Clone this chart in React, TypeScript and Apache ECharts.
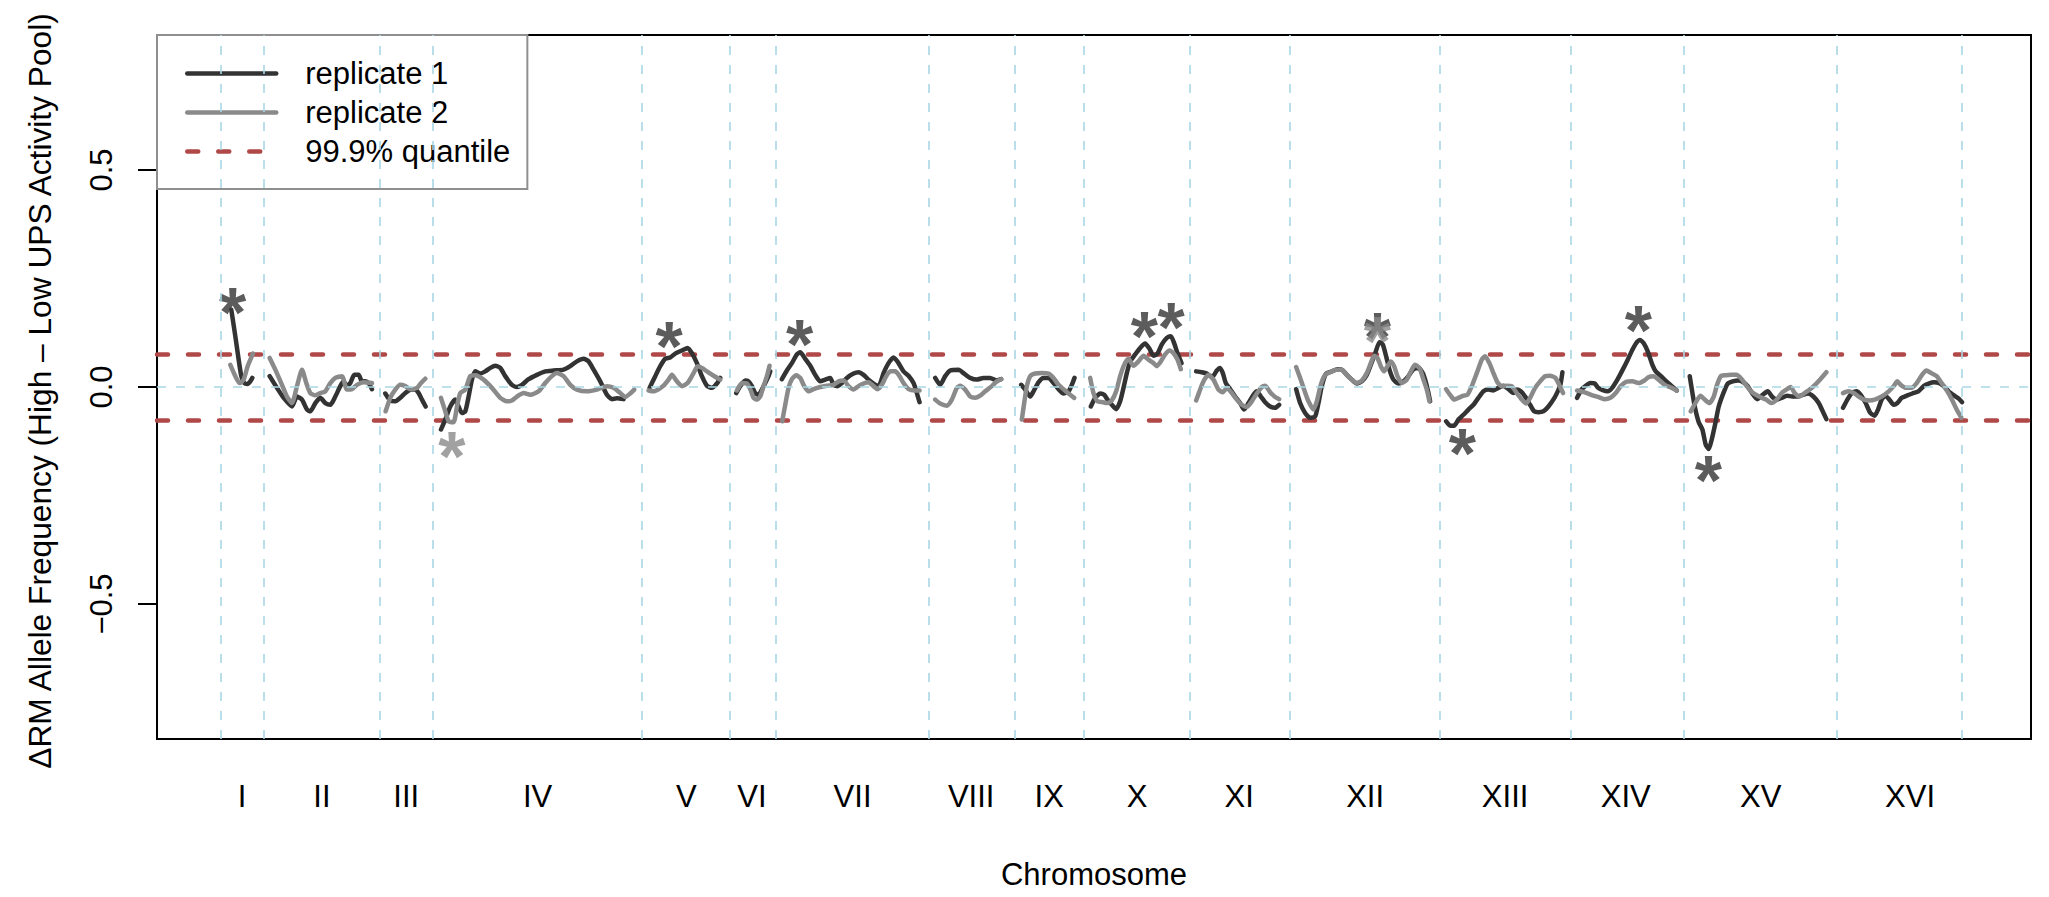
import React, { useEffect, useRef } from 'react';
import * as echarts from 'echarts';

// ---------- data ----------
const chromosomes = ['I', 'II', 'III', 'IV', 'V', 'VI', 'VII', 'VIII', 'IX', 'X', 'XI', 'XII', 'XIII', 'XIV', 'XV', 'XVI'];
// chromosome boundaries along the concatenated genome (map units)
const chromBounds = [0, 131, 478, 638, 1266, 1529, 1666, 2127, 2385, 2591, 2909, 3210, 3658, 4051, 4391, 4850, 5226];
// positions of the chromosome names
const labelPos = [65, 305, 558, 952, 1398, 1595, 1897, 2253, 2487, 2751, 3057, 3435, 3855, 4217, 4622, 5070];
const xRange = [-190, 5433];
const yRange = [-0.811, 0.811];
const yTicks = [-0.5, 0, 0.5];
const quantileUpper = 0.075;
const quantileLower = -0.077;

// replicate 1 (dark) per chromosome: [position, delta allele frequency]
const chrI_r1 = [[33, 0.178], [45, 0.117], [55, 0.063], [63, 0.025], [72, 0.009], [82, 0.007], [90, 0.013], [96, 0.021]];
const chrII_r1 = [[148, 0.025], [170, -0.002], [190, -0.025], [215, -0.045], [230, -0.022], [245, -0.029], [260, -0.052], [270, -0.056], [285, -0.037], [300, -0.025], [315, -0.037], [330, -0.041], [345, -0.022], [360, 0.002], [370, 0.013], [380, 0.002], [390, 0.009], [402, 0.028], [415, 0.028], [425, 0.013], [435, 0.013], [445, 0.009], [455, -0.005]];
const chrIII_r1 = [[495, -0.015], [510, -0.031], [525, -0.033], [540, -0.025], [555, -0.014], [570, -0.006], [585, -0.005], [595, -0.014], [605, -0.029], [616, -0.045]];
const chrIV_r1 = [[662, -0.098], [675, -0.075], [690, -0.045], [705, -0.029], [715, -0.045], [725, -0.06], [735, -0.056], [745, -0.022], [755, 0.017], [765, 0.036], [780, 0.031], [795, 0.036], [810, 0.044], [825, 0.049], [840, 0.044], [855, 0.025], [875, 0.005], [890, 0], [905, 0.005], [925, 0.018], [950, 0.028], [975, 0.036], [1000, 0.038], [1030, 0.04], [1050, 0.048], [1070, 0.059], [1090, 0.065], [1105, 0.059], [1120, 0.04], [1140, 0.013], [1160, -0.018], [1175, -0.028], [1190, -0.026], [1210, -0.028]];
const chrV_r1 = [[1288, -0.002], [1305, 0.025], [1320, 0.048], [1335, 0.065], [1350, 0.068], [1365, 0.077], [1385, 0.084], [1402, 0.09], [1415, 0.078], [1430, 0.055], [1445, 0.025], [1460, 0.003], [1475, -0.002], [1490, 0.008], [1500, 0.021]];
const chrVI_r1 = [[1548, -0.014], [1560, 0.002], [1575, 0.015], [1585, 0.013], [1595, 0.002], [1605, -0.014], [1615, -0.018], [1625, -0.006], [1635, 0.009], [1645, 0.025], [1650, 0.036]];
const chrVII_r1 = [[1685, 0.018], [1700, 0.038], [1715, 0.055], [1730, 0.075], [1740, 0.08], [1755, 0.065], [1770, 0.049], [1785, 0.028], [1800, 0.013], [1815, 0.017], [1830, 0.021], [1840, 0.005], [1852, 0.002], [1865, 0.009], [1880, 0.021], [1900, 0.031], [1915, 0.034], [1930, 0.028], [1945, 0.017], [1960, 0.008], [1975, 0.002], [1990, 0.032], [2005, 0.055], [2020, 0.068], [2035, 0.055], [2050, 0.036], [2065, 0.026], [2080, 0.009], [2090, -0.014], [2098, -0.035]];
const chrVIII_r1 = [[2145, 0.021], [2160, 0.005], [2175, 0.025], [2190, 0.038], [2215, 0.04], [2230, 0.032], [2250, 0.021], [2270, 0.017], [2290, 0.021], [2310, 0.021], [2330, 0.015], [2343, 0.018]];
const chrIX_r1 = [[2403, 0.005], [2415, -0.006], [2430, -0.022], [2440, -0.01], [2455, 0.011], [2470, 0.021], [2485, 0.021], [2500, 0.009], [2515, -0.005], [2530, -0.015], [2545, -0.01], [2555, 0.005], [2563, 0.021]];
const chrX_r1 = [[2612, -0.045], [2625, -0.025], [2640, -0.015], [2652, -0.018], [2662, -0.029], [2675, -0.041], [2688, -0.051], [2700, -0.033], [2710, -0.002], [2720, 0.032], [2730, 0.059], [2745, 0.075], [2760, 0.09], [2775, 0.1], [2788, 0.088], [2800, 0.072], [2812, 0.077], [2825, 0.098], [2840, 0.113], [2852, 0.117], [2862, 0.101], [2872, 0.078], [2884, 0.055]];
const chrXI_r1 = [[2928, 0.036], [2945, 0.034], [2960, 0.031], [2970, 0.025], [2980, 0.026], [2990, 0.038], [3000, 0.044], [3008, 0.032], [3017, 0.009], [3030, -0.005], [3045, -0.022], [3060, -0.037], [3072, -0.052], [3085, -0.037], [3098, -0.02], [3110, -0.01], [3122, -0.022], [3135, -0.035], [3150, -0.045], [3165, -0.048], [3177, -0.041]];
const chrXII_r1 = [[3228, -0.005], [3240, -0.037], [3255, -0.06], [3270, -0.071], [3285, -0.068], [3295, -0.037], [3305, 0.002], [3318, 0.031], [3335, 0.036], [3352, 0.041], [3365, 0.04], [3380, 0.028], [3395, 0.017], [3410, 0.008], [3425, 0.013], [3440, 0.028], [3452, 0.051], [3465, 0.077], [3478, 0.103], [3488, 0.098], [3498, 0.071], [3508, 0.04], [3520, 0.017], [3535, 0.008], [3550, 0.013], [3565, 0.025], [3580, 0.041], [3595, 0.044], [3608, 0.032], [3618, 0.009], [3625, -0.014], [3630, -0.033]];
const chrXIII_r1 = [[3678, -0.079], [3690, -0.089], [3702, -0.089], [3715, -0.075], [3730, -0.064], [3745, -0.052], [3760, -0.041], [3775, -0.025], [3790, -0.01], [3805, -0.006], [3820, -0.008], [3835, -0.002], [3850, 0.003], [3865, -0.005], [3880, -0.014], [3890, -0.006], [3902, -0.01], [3915, -0.022], [3930, -0.041], [3942, -0.056], [3955, -0.058], [3970, -0.056], [3985, -0.045], [4003, -0.025], [4013, -0.01], [4021, 0.005], [4027, 0.034]];
const chrXIV_r1 = [[4071, -0.025], [4084, -0.006], [4097, 0.003], [4111, 0.009], [4124, 0.008], [4134, -0.002], [4150, -0.008], [4163, -0.01], [4176, -0.002], [4192, 0.017], [4208, 0.04], [4223, 0.063], [4237, 0.086], [4250, 0.103], [4260, 0.108], [4271, 0.101], [4283, 0.082], [4297, 0.051], [4307, 0.036], [4323, 0.025], [4339, 0.013], [4355, 0.002], [4370, -0.008]];
const chrXV_r1 = [[4409, 0.025], [4418, -0.018], [4426, -0.052], [4436, -0.081], [4447, -0.098], [4457, -0.133], [4466, -0.143], [4475, -0.121], [4486, -0.083], [4496, -0.045], [4510, -0.014], [4523, 0.008], [4538, 0.013], [4554, 0.015], [4570, 0.011], [4583, 0.002], [4596, -0.014], [4612, -0.028], [4628, -0.018], [4643, -0.01], [4657, -0.023], [4670, -0.029], [4685, -0.025], [4701, -0.02], [4717, -0.022], [4733, -0.022], [4748, -0.018], [4764, -0.015], [4780, -0.022], [4796, -0.037], [4808, -0.056], [4819, -0.074]];
const chrXVI_r1 = [[4869, -0.048], [4882, -0.029], [4895, -0.014], [4909, -0.01], [4922, -0.018], [4937, -0.037], [4951, -0.06], [4964, -0.066], [4974, -0.052], [4985, -0.029], [4995, -0.02], [5008, -0.029], [5021, -0.041], [5032, -0.037], [5045, -0.025], [5060, -0.02], [5077, -0.015], [5095, -0.01], [5111, 0.002], [5126, 0.008], [5142, 0.011], [5158, 0.009], [5171, 0.002], [5186, -0.01], [5203, -0.02], [5218, -0.028], [5226, -0.035]];

// replicate 2 (grey) per chromosome
const chrI_r2 = [[30, 0.051], [45, 0.025], [58, 0.009], [70, 0.017], [82, 0.048], [98, 0.077]];
const chrII_r2 = [[148, 0.067], [165, 0.04], [185, 0.005], [200, -0.022], [215, -0.037], [230, 0.002], [245, 0.04], [258, 0.009], [270, -0.014], [285, -0.019], [300, -0.014], [315, -0.01], [330, 0.009], [345, 0.021], [365, 0.025], [380, -0.006], [395, -0.005], [410, 0.005], [430, 0.011], [455, 0.009]];
const chrIII_r2 = [[496, -0.056], [510, -0.025], [525, -0.006], [540, 0.005], [555, 0.002], [570, -0.005], [590, -0.002], [602, 0.009], [615, 0.019]];
const chrIV_r2 = [[662, -0.025], [675, -0.056], [685, -0.079], [700, -0.081], [710, -0.045], [720, -0.014], [735, -0.006], [750, 0.025], [765, 0.027], [790, 0.017], [815, -0.002], [840, -0.025], [860, -0.033], [875, -0.031], [890, -0.022], [910, -0.014], [930, -0.018], [955, -0.01], [975, 0.009], [995, 0.025], [1010, 0.032], [1030, 0.025], [1050, 0.005], [1070, -0.006], [1100, -0.01], [1130, -0.006], [1160, 0.002], [1180, -0.002], [1200, -0.014], [1215, -0.023], [1230, -0.015], [1242, -0.006]];
const chrV_r2 = [[1285, -0.008], [1300, -0.01], [1315, -0.005], [1330, 0.003], [1345, 0.017], [1355, 0.028], [1370, 0.013], [1385, 0.002], [1402, 0.009], [1420, 0.032], [1432, 0.048], [1445, 0.044], [1460, 0.036], [1480, 0.026], [1500, 0.017]];
const chrVI_r2 = [[1550, -0.008], [1565, 0.009], [1580, 0.008], [1590, -0.005], [1600, -0.025], [1610, -0.029], [1620, -0.022], [1630, 0.002], [1640, 0.025], [1648, 0.049]];
const chrVII_r2 = [[1686, -0.079], [1695, -0.041], [1705, -0.002], [1715, 0.018], [1728, 0.027], [1740, 0.021], [1752, 0.002], [1765, -0.01], [1780, -0.005], [1800, 0], [1820, 0.003], [1840, 0.005], [1855, 0.013], [1870, 0.015], [1885, 0.002], [1900, -0.006], [1915, 0.002], [1930, 0.008], [1945, 0.011], [1960, 0.002], [1972, -0.005], [1985, 0.005], [1998, 0.025], [2012, 0.036], [2025, 0.036], [2038, 0.025], [2050, 0.009], [2065, -0.005], [2085, -0.008], [2098, -0.008]];
const chrVIII_r2 = [[2145, -0.029], [2160, -0.038], [2180, -0.043], [2195, -0.029], [2210, -0.002], [2220, 0.003], [2235, -0.006], [2250, -0.022], [2265, -0.025], [2280, -0.02], [2295, -0.01], [2315, 0.002], [2330, 0.013], [2343, 0.018]];
const chrIX_r2 = [[2405, -0.075], [2412, -0.037], [2420, 0.002], [2430, 0.025], [2445, 0.031], [2465, 0.032], [2485, 0.031], [2500, 0.021], [2515, 0.005], [2530, -0.005], [2545, -0.015], [2562, -0.025]];
const chrX_r2 = [[2610, 0.021], [2620, -0.014], [2632, -0.033], [2648, -0.035], [2662, -0.037], [2675, -0.031], [2688, -0.01], [2700, 0.025], [2712, 0.051], [2725, 0.065], [2740, 0.049], [2755, 0.059], [2770, 0.072], [2785, 0.063], [2800, 0.055], [2810, 0.048], [2822, 0.059], [2835, 0.075], [2848, 0.084], [2860, 0.078], [2872, 0.063], [2882, 0.041]];
const chrXI_r2 = [[2928, -0.031], [2938, -0.01], [2950, 0.013], [2965, 0.028], [2980, 0.017], [2995, -0.006], [3008, -0.012], [3020, -0.002], [3035, -0.014], [3050, -0.029], [3065, -0.041], [3080, -0.046], [3095, -0.033], [3110, -0.015], [3125, 0], [3135, 0.003], [3150, -0.012], [3165, -0.023], [3177, -0.028]];
const chrXII_r2 = [[3228, 0.046], [3240, 0.021], [3252, -0.006], [3265, -0.033], [3280, -0.052], [3290, -0.033], [3302, 0.005], [3315, 0.028], [3330, 0.034], [3348, 0.04], [3365, 0.04], [3380, 0.028], [3395, 0.017], [3410, 0.009], [3425, 0.015], [3440, 0.032], [3452, 0.055], [3462, 0.072], [3472, 0.067], [3482, 0.048], [3492, 0.036], [3502, 0.048], [3512, 0.059], [3522, 0.048], [3532, 0.025], [3545, 0.009], [3560, 0.017], [3575, 0.04], [3585, 0.051], [3598, 0.044], [3610, 0.017], [3620, -0.006], [3628, -0.033]];
const chrXIII_r2 = [[3678, -0.005], [3690, -0.018], [3702, -0.029], [3715, -0.025], [3730, -0.02], [3742, -0.018], [3755, 0.002], [3770, 0.032], [3785, 0.063], [3795, 0.071], [3808, 0.055], [3820, 0.032], [3832, 0.011], [3845, 0.002], [3860, 0.003], [3875, 0.002], [3890, -0.014], [3905, -0.029], [3918, -0.038], [3930, -0.025], [3945, -0.002], [3960, 0.013], [3975, 0.025], [3990, 0.026], [4006, 0.021], [4019, 0.002], [4029, -0.014]];
const chrXIV_r2 = [[4071, -0.008], [4092, -0.012], [4113, -0.018], [4134, -0.023], [4153, -0.028], [4171, -0.025], [4187, -0.014], [4202, 0.002], [4218, 0.012], [4237, 0.013], [4255, 0.009], [4273, 0.015], [4286, 0.023], [4300, 0.025], [4315, 0.017], [4334, 0.005], [4355, -0.002], [4370, -0.008]];
const chrXV_r2 = [[4412, -0.056], [4426, -0.037], [4441, -0.02], [4454, -0.029], [4468, -0.037], [4481, -0.022], [4491, 0.005], [4502, 0.025], [4517, 0.027], [4533, 0.028], [4549, 0.028], [4565, 0.018], [4580, 0.002], [4596, -0.012], [4617, -0.022], [4638, -0.029], [4654, -0.037], [4670, -0.029], [4685, -0.014], [4701, -0.005], [4712, 0], [4724, -0.014], [4738, -0.022], [4754, -0.014], [4769, -0.006], [4785, 0.005], [4801, 0.018], [4819, 0.034]];
const chrXVI_r2 = [[4869, -0.014], [4885, -0.01], [4901, -0.014], [4916, -0.022], [4932, -0.029], [4948, -0.031], [4964, -0.029], [4985, -0.022], [5006, -0.01], [5021, 0.002], [5032, 0.013], [5042, 0.005], [5058, -0.002], [5074, -0.002], [5090, 0.009], [5106, 0.028], [5119, 0.038], [5134, 0.032], [5150, 0.025], [5165, 0.009], [5182, -0.01], [5197, -0.031], [5210, -0.052], [5224, -0.071]];

// significant peaks (asterisks)
const peaksRep1 = [[37, 0.195], [1347, 0.118], [1738, 0.123], [2773, 0.14], [2853, 0.161], [3472, 0.138], [3727, -0.129], [4255, 0.155], [4465, -0.191]];
const peaksRep2 = [[695, -0.135], [3472, 0.13]];

const rep1Segments = [chrI_r1, chrII_r1, chrIII_r1, chrIV_r1, chrV_r1, chrVI_r1, chrVII_r1, chrVIII_r1, chrIX_r1, chrX_r1, chrXI_r1, chrXII_r1, chrXIII_r1, chrXIV_r1, chrXV_r1, chrXVI_r1];
const rep2Segments = [chrI_r2, chrII_r2, chrIII_r2, chrIV_r2, chrV_r2, chrVI_r2, chrVII_r2, chrVIII_r2, chrIX_r2, chrX_r2, chrXI_r2, chrXII_r2, chrXIII_r2, chrXIV_r2, chrXV_r2, chrXVI_r2];

// ---------- styling ----------
const FONT = 'Liberation Sans, Arial, Helvetica, sans-serif';
const DARK = '#333333';
const GREY = '#8a8a8a';
const RED = '#b04848';
const BLUE = '#a9d7e6';

function joinSegments(segs: number[][][]) {
  const out: any[] = [];
  segs.forEach((s, i) => {
    if (i > 0) out.push([chromBounds[i], '-']);
    s.forEach((p) => out.push(p));
  });
  return out;
}

function fmtY(v: number) {
  if (v === 0) return '0.0';
  return v < 0 ? '\u2212' + Math.abs(v).toFixed(1) : v.toFixed(1);
}

export default function App() {
  const ref = useRef<HTMLDivElement>(null);
  useEffect(() => {
    if (!ref.current) return;
    const chart = echarts.init(ref.current, undefined, { renderer: 'svg' });
    const starLabel = (color: string) => ({
      show: true, position: 'inside', formatter: '*', fontSize: 70, fontWeight: 'bold', fontFamily: FONT, color, offset: [0, 11],
    });
    const option: any = {
      animation: false,
      backgroundColor: '#ffffff',
      textStyle: { fontFamily: FONT },
      grid: {
        left: 157, right: 18, top: 35, bottom: 158,
        show: true, borderColor: '#000', borderWidth: 2, backgroundColor: 'transparent',
      },
      legend: {
        data: ['replicate 1', 'replicate 2', '99.9% quantile'],
        orient: 'vertical',
        left: 157,
        top: 35,
        padding: [23, 17, 22, 28],
        itemWidth: 89,
        itemHeight: 14,
        itemGap: 8,
        selectedMode: false,
        backgroundColor: 'transparent',
        borderColor: '#8f8f8f',
        borderWidth: 2,
        itemStyle: { color: 'transparent', borderWidth: 0, opacity: 0 },
        lineStyle: { width: 4.5, cap: 'round' },
        textStyle: { fontFamily: FONT, fontSize: 31, lineHeight: 31, color: '#000', padding: [0, 0, 0, 24] },
      },
      xAxis: {
        type: 'value', min: xRange[0], max: xRange[1],
        axisLine: { show: false, onZero: false }, axisTick: { show: false }, splitLine: { show: false },
        axisLabel: {
          customValues: labelPos,
          formatter: (v: number) => chromosomes[labelPos.indexOf(v)] ?? '',
          margin: 42, fontSize: 31, color: '#000', fontFamily: FONT,
        },
      },
      yAxis: {
        type: 'value', min: yRange[0], max: yRange[1],
        axisLine: { show: false, onZero: false },
        splitLine: { show: false },
        axisTick: { show: true, inside: false, customValues: yTicks, length: 19, lineStyle: { color: '#000', width: 2 } },
        axisLabel: {
          customValues: yTicks, formatter: fmtY, rotate: 90, margin: 40,
          fontSize: 31, color: '#000', fontFamily: FONT,
        },
      },
      graphic: [
        {
          type: 'text', x: 40, y: 391, rotation: Math.PI / 2,
          style: {
            text: '\u0394RM Allele Frequency (High \u2013 Low UPS Activity Pool)',
            fontSize: 31.7, fontFamily: FONT, fill: '#000', textAlign: 'center', textVerticalAlign: 'middle',
          },
        },
        {
          type: 'text', x: 1094, y: 874,
          style: { text: 'Chromosome', fontSize: 31, fontFamily: FONT, fill: '#000', textAlign: 'center', textVerticalAlign: 'middle' },
        },
      ],
      series: [
        {
          type: 'line', name: 'guides', data: [], silent: true,
          markLine: {
            silent: true, symbol: ['none', 'none'], label: { show: false },
            lineStyle: { color: BLUE, width: 1.6, type: [9, 10] },
            emphasis: { disabled: true },
            data: [...chromBounds.map((b) => ({ xAxis: b })), { yAxis: 0 }],
          },
        },
        {
          type: 'line', name: '99.9% quantile', silent: true, symbol: 'none',
          data: [[xRange[0], quantileUpper], [xRange[1], quantileUpper]],
          lineStyle: { color: RED, width: 4.5, type: [11, 20], cap: 'round' },
          itemStyle: { color: RED },
        },
        {
          type: 'line', name: '99.9% quantile', silent: true, symbol: 'none',
          data: [[xRange[0], quantileLower], [xRange[1], quantileLower]],
          lineStyle: { color: RED, width: 4.5, type: [11, 20], cap: 'round' },
          itemStyle: { color: RED },
        },
        {
          type: 'line', name: 'replicate 1', silent: true, symbol: 'none', smooth: 0.2, connectNulls: false,
          data: joinSegments(rep1Segments),
          lineStyle: { color: DARK, width: 4.5, cap: 'round', join: 'round' },
          itemStyle: { color: DARK },
        },
        {
          type: 'line', name: 'replicate 2', silent: true, symbol: 'none', smooth: 0.2, connectNulls: false,
          data: joinSegments(rep2Segments),
          lineStyle: { color: GREY, width: 4.5, cap: 'round', join: 'round' },
          itemStyle: { color: GREY },
        },
        {
          type: 'scatter', name: 'peaks rep1', silent: true, symbolSize: 1,
          itemStyle: { color: 'transparent' },
          data: peaksRep1,
          label: starLabel(DARK),
        },
        {
          type: 'scatter', name: 'peaks rep2', silent: true, symbolSize: 1,
          itemStyle: { color: 'transparent' },
          data: peaksRep2,
          label: starLabel(GREY),
        },
      ],
    };
    chart.setOption(option);
    return () => chart.dispose();
  }, []);
  return <div ref={ref} style={{ position: 'absolute', left: 0, top: 0, width: 2049, height: 897 }} />;
}
